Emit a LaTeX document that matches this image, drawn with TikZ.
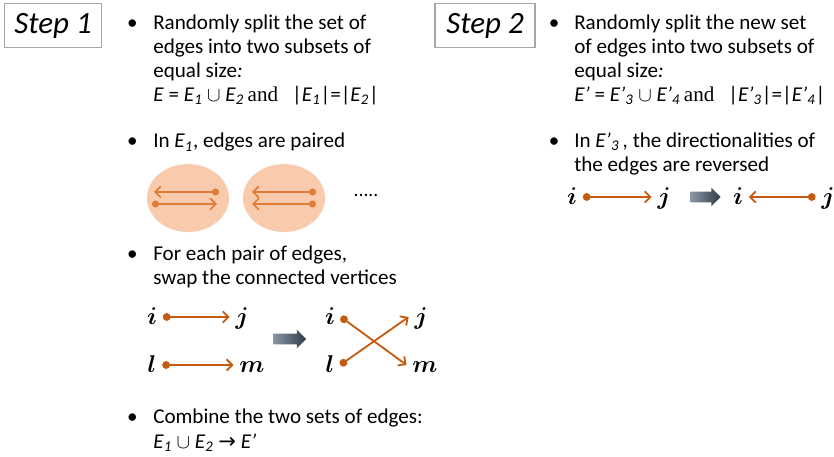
\documentclass[tikz,border=0pt]{standalone}
\usepackage{fontspec}
\setmainfont{Carlito}
\newfontfamily\andfont{Liberation Serif}
\newfontfamily\arrowfont{DejaVu Sans}
\usepackage{amsmath}
\usepackage{tikz}
\usetikzlibrary{arrows.meta}
\usetikzlibrary{shapes.geometric}
\usetikzlibrary{shapes.arrows}
\usepackage{xcolor}

\definecolor{edgeorange}{HTML}{C55A11}
\definecolor{pairline}{HTML}{E07B39}
\definecolor{pairfill}{HTML}{F8CBAD}
\definecolor{slatedark}{HTML}{2E3B4A}
\definecolor{slatelight}{HTML}{8A96A3}

\newcommand{\Esub}[1]{\textit{E}\textsubscript{\textit{#1}}}
\newcommand{\Epsub}[1]{\textit{E’}\textsubscript{\textit{#1}}}

\begin{document}
\begin{tikzpicture}[
    x=0.025cm, y=-0.025cm,
    stepbox/.style={rectangle, draw=gray!70, line width=0.8pt, minimum width=2.42cm, minimum height=1.12cm, font=\fontsize{22}{26}\selectfont\itshape},
    txt/.style={anchor=base west, align=left, inner sep=0pt, font=\fontsize{15}{17.1}\selectfont},
    dot/.style={anchor=base, inner sep=0pt, font=\fontsize{15}{17.1}\selectfont},
    vtx/.style={anchor=base, inner xsep=4pt, inner ysep=0pt, text height=12pt, text depth=0.6pt, font=\fontsize{18}{20}\selectfont},
    edge/.style={{Circle[length=5.5pt]}-{Straight Barb[length=4pt,width=8pt]}, line width=1.3pt, color=edgeorange},
    pair/.style={ellipse, fill=pairfill, minimum width=2.05cm, minimum height=1.7cm, inner sep=0pt},
    pairedge/.style={{Circle[length=5pt]}-{Straight Barb[length=4pt,width=8pt]}, line width=1.2pt, color=pairline},
    swap/.style={single arrow, inner xsep=0pt, inner ysep=0.125cm, minimum height=0.82cm, minimum width=0.45cm, single arrow head extend=0.1cm, left color=slatelight, right color=slatedark, draw=none}
]
    \useasboundingbox (0,0) rectangle (834,457);

    % Step titles
    \node[stepbox] (step1) at (53,25.5) {Step 1};
    \node[stepbox, minimum width=2.5cm] (step2) at (485,25.5) {Step 2};

    % Bullets
    \foreach \bx/\by [count=\k] in {132.5/29.5, 132.5/148, 132.5/261, 132.5/424, 554/29.5, 554/148}
        \node[dot] (bul\k) at (\bx,\by) {•};

    % Step 1: split (anchored at the last line)
    \node[txt] (split1) at (153,101.5) {Randomly split the set of\\edges into two subsets of\\equal size\textit{:}\\\textit{E} = \Esub{1} $\cup$ \Esub{2}\,{\andfont and}\enspace\,|\Esub{1}|=|\Esub{2}|};

    % Step 1: pairs
    \node[txt] (paired) at (153,148) {In \Esub{1}, edges are paired};
    \node[pair] (pairA) at (188,198) {};
    \node[pair] (pairB) at (284,198) {};
    \node[font=\fontsize{14}{17}\selectfont] (more) at (366,195) {.....};
    \draw[pairedge] ([shift={(31,-6)}]pairA.center) -- ([shift={(-34,-6)}]pairA.center);
    \draw[pairedge] ([shift={(-36,6)}]pairA.center) -- ([shift={(29,6)}]pairA.center);
    \draw[pairedge] ([shift={(32,-6)}]pairB.center) -- ([shift={(-32,-6)}]pairB.center);
    \draw[pairedge] ([shift={(32,6)}]pairB.center) -- ([shift={(-32,6)}]pairB.center);

    % Step 1: swap
    \node[txt] (swaptext) at (153,285) {For each pair of edges,\\swap the connected vertices};
    \node[vtx] (i1) at (152,325) {$\boldsymbol{i}$};
    \node[vtx] (j1) at (242,325) {$\boldsymbol{j}$};
    \node[vtx] (l1) at (152,373) {$\boldsymbol{l}$};
    \node[vtx] (m1) at (252,373) {$\boldsymbol{m}$};
    \node[swap] (go1) at (287,339) {};
    \node[vtx] (i2) at (330,325) {$\boldsymbol{i}$};
    \node[vtx] (j2) at (421,325) {$\boldsymbol{j}$};
    \node[vtx] (l2) at (330,373) {$\boldsymbol{l}$};
    \node[vtx] (m2) at (425,373) {$\boldsymbol{m}$};
    \draw[edge] (i1.east) -- (j1.west);
    \draw[edge] (l1.east) -- (m1.west);
    \draw[edge] (i2.east) -- (m2.west);
    \draw[edge] (l2.east) -- (j2.west);

    % Step 1: combine
    \node[txt] (combine) at (153,448) {Combine the two sets of edges:\\\Esub{1} $\cup$ \Esub{2} {\arrowfont →} \textit{E’}};

    % Step 2: split
    \node[txt] (split2) at (574,101.5) {Randomly split the new set\\of edges into two subsets of\\equal size\textit{:}\\\textit{E’} = \Epsub{3} $\cup$ \Epsub{4}\,{\andfont and}\enspace\,|\Epsub{3}|=|\Epsub{4}|};

    % Step 2: reverse
    \node[txt] (reverse) at (574,172) {In \Epsub{3}\,, the directionalities of\\the edges are reversed};
    \node[vtx] (i3) at (572,205) {$\boldsymbol{i}$};
    \node[vtx] (j3) at (664,205) {$\boldsymbol{j}$};
    \node[swap, minimum height=0.75cm] (go2) at (703,197) {};
    \node[vtx] (i4) at (738,205) {$\boldsymbol{i}$};
    \node[vtx] (j4) at (828,205) {$\boldsymbol{j}$};
    \draw[edge] (i3.east) -- (j3.west);
    \draw[edge] (j4.west) -- (i4.east);
\end{tikzpicture}
\end{document}
